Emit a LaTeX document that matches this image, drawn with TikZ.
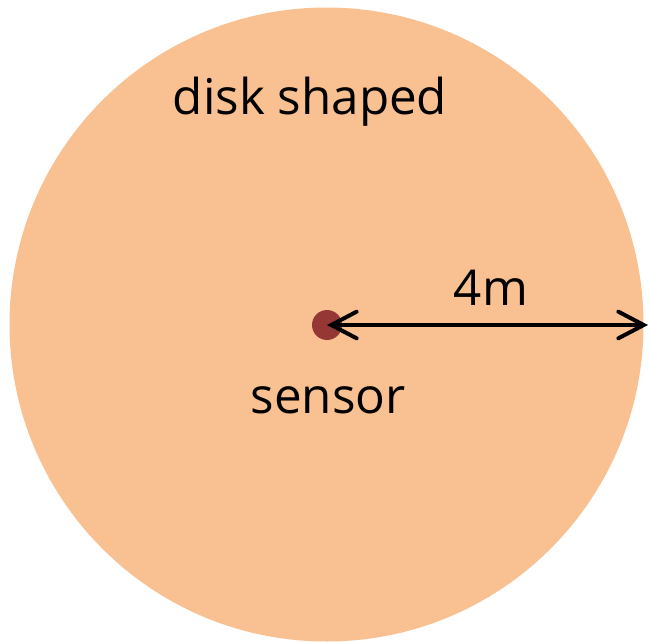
\documentclass[tikz,border=0pt]{standalone}
\usepackage{fontspec}
\setmainfont{Open Sans}
\usetikzlibrary{arrows.meta}
\definecolor{diskfill}{HTML}{F9C091}
\definecolor{dotred}{HTML}{953735}
\tikzset{
  lbl/.style={font=\fontsize{37}{44}\selectfont, inner sep=0pt, anchor=base},
  dimarrow/.style={line width=3pt, {Straight Barb[length=19pt,width=20pt,line cap=round]}-{Straight Barb[length=19pt,width=20pt,line cap=round]}}
}
\begin{document}
\begin{tikzpicture}[x=0.75pt,y=-0.75pt]
\useasboundingbox (0,0) rectangle (650,642);
\fill[diskfill] (326.5,324.5) circle[radius=317];
\fill[dotred] (327,325) circle[radius=15];
\coordinate (c) at (327,325);
\coordinate (e) at (648,325);
\draw[dimarrow] (c) -- (e);
\node[lbl] (disk) at (310,114) {disk shaped};
\node[lbl] (four) at (491,305) {4m};
\node[lbl] (sens) at (328,413) {sensor};
\end{tikzpicture}
\end{document}
